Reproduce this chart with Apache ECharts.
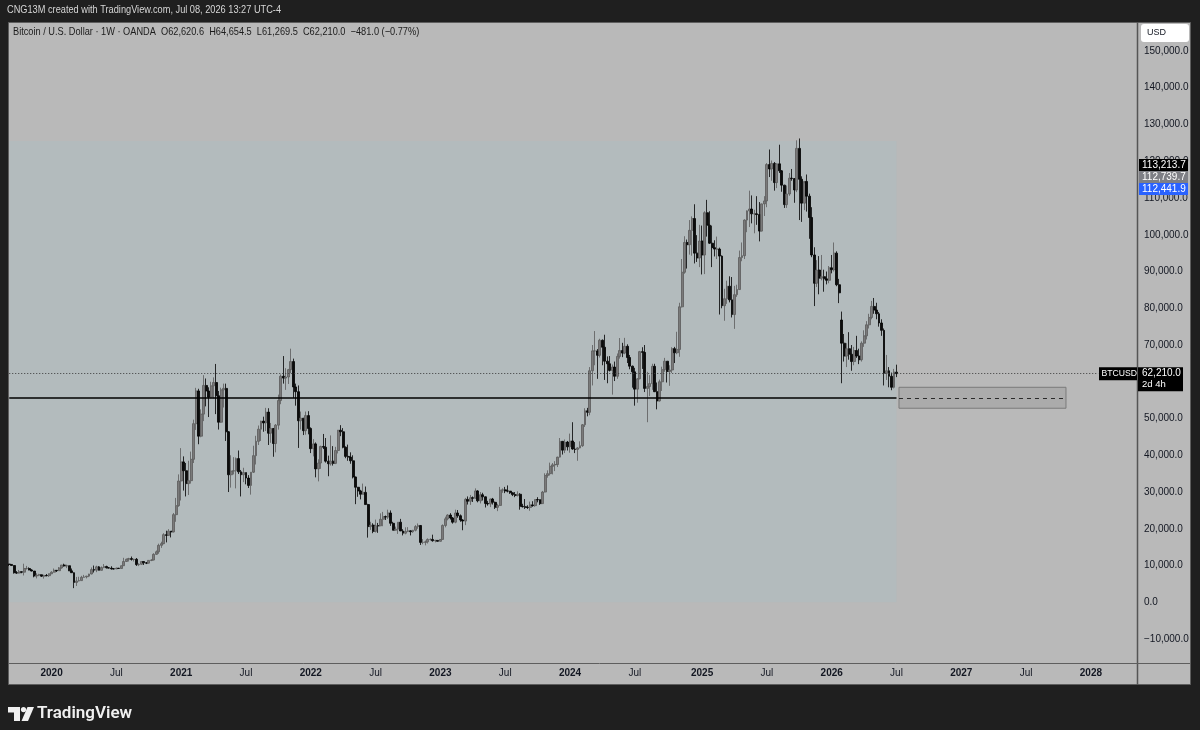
<!DOCTYPE html>
<html><head><meta charset="utf-8">
<script src="https://cdn.jsdelivr.net/npm/echarts@6/dist/echarts.min.js"></script>
<style>html,body{margin:0;padding:0;background:#1f1f1f;}#c{width:1200px;height:730px;}</style>
</head><body><div id="c"></div>
<script>
// ---- time axis: weekly bars (Monday opens) ----
const firstWeek = '2019-09-09';
const weekCount = 453;            // visible weekly slots incl. future space to 2028
// ---- weekly candles [open, high, low, close] in thousands of USD ----
const btc2019 = [
[10.4,10.45,9.9,10.3],[10.3,10.35,9.95,10.0],[10.0,10.05,7.8,8.05],[8.05,8.5,7.75,7.95],[7.95,8.8,7.8,8.3],
[8.3,8.4,7.9,8.2],[8.2,10.5,7.3,9.2],[9.2,9.9,8.9,9.2],[9.2,9.5,8.7,8.8],[8.8,9.0,8.4,8.5],
[8.5,8.5,6.8,7.15],[7.15,7.9,6.5,7.4],[7.4,7.75,7.1,7.5],[7.5,7.5,6.9,7.1],[7.1,7.5,6.45,7.3],
[7.3,7.7,7.05,7.25],[7.25,7.85,6.9,7.75]];
const btc2020 = [
[7.75,8.45,7.7,8.2],[8.2,9.2,8.1,8.7],[8.7,8.75,8.25,8.6],[8.6,9.6,8.55,9.35],[9.35,10.15,9.15,10.15],
[10.15,10.5,9.7,9.9],[9.9,10.25,9.3,9.95],[9.95,9.95,8.5,8.55],[8.55,9.2,8.0,8.05],[8.05,8.15,3.85,5.4],
[5.4,6.9,4.45,5.8],[5.8,6.95,5.7,5.9],[5.9,7.2,5.85,6.8],[6.8,7.45,6.75,6.9],[6.9,7.2,6.5,7.12],
[7.12,7.75,6.85,7.7],[7.7,9.48,7.6,8.9],[8.9,10.0,8.1,8.75],[8.75,9.95,8.2,9.65],[9.65,9.85,8.68,8.7],
[8.7,9.75,8.65,9.45],[9.45,10.4,9.3,9.75],[9.75,9.95,9.2,9.4],[9.4,9.6,9.2,9.3],[9.3,9.8,8.9,9.1],
[9.1,9.3,8.95,9.08],[9.08,9.45,9.05,9.28],[9.28,9.35,9.1,9.2],[9.2,10.0,9.15,9.95],[9.95,12.1,9.9,11.1],
[11.1,11.9,11.0,11.7],[11.7,12.1,11.1,11.9],[11.9,12.45,11.35,11.65],[11.65,11.8,11.1,11.7],[11.7,12.05,9.9,10.25],
[10.25,10.6,9.85,10.35],[10.35,11.1,10.2,11.1],[11.1,11.1,10.15,10.75],[10.75,10.95,10.4,10.65],[10.65,11.5,10.55,11.4],
[11.4,11.7,11.2,11.5],[11.5,13.35,11.4,13.05],[13.05,14.1,12.9,13.75],[13.75,15.95,13.2,15.5],[15.5,16.48,14.8,15.95],
[15.95,18.8,15.8,18.4],[18.4,19.48,16.3,18.2],[18.2,19.9,18.1,19.35],[19.35,19.4,17.65,19.15],[19.15,24.3,19.0,23.85],
[23.85,28.4,21.9,26.3],[26.3,34.8,26.0,33.0]];
const btc2021 = [
[33.0,41.95,27.7,38.2],[38.2,39.7,30.4,35.8],[35.8,37.9,28.8,32.3],[32.3,38.5,29.2,33.1],[33.1,41.0,32.3,38.9],
[38.9,49.7,37.9,48.6],[48.6,58.35,46.9,57.5],[57.5,58.1,43.0,45.2],[45.2,52.5,44.9,51.2],[51.2,61.8,49.3,59.0],
[59.0,60.9,53.3,57.5],[57.5,58.5,50.4,55.8],[55.8,60.0,55.5,58.9],[58.9,61.2,55.5,59.8],[59.8,64.85,51.2,56.2],
[56.2,57.5,47.0,49.0],[49.0,58.4,48.8,57.8],[57.8,59.5,53.0,58.2],[58.2,59.5,43.9,46.4],[46.4,46.6,30.0,34.7],
[34.7,40.0,31.2,35.7],[35.7,39.5,34.8,35.8],[35.8,39.4,31.0,39.1],[39.1,41.3,34.9,35.5],[35.5,36.0,28.8,34.7],
[34.7,36.6,32.7,35.3],[35.3,35.3,32.1,33.8],[33.8,34.6,31.1,31.8],[31.8,35.4,29.3,35.4],[35.4,42.6,35.2,39.9],
[39.9,45.3,37.5,43.8],[43.8,48.1,42.8,47.1],[47.1,49.4,43.9,49.3],[49.3,50.5,46.4,48.8],[48.8,52.9,46.6,51.75],
[51.75,52.8,42.8,46.0],[46.0,48.8,43.4,47.3],[47.3,47.4,39.6,43.2],[43.2,48.5,40.8,48.2],[48.2,56.5,47.0,54.9],
[54.9,62.0,53.9,61.5],[61.5,67.0,59.5,61.0],[61.0,63.7,57.8,61.3],[61.3,63.5,59.4,63.3],[63.3,69.0,62.3,65.5],
[65.5,66.3,55.6,58.6],[58.6,59.5,53.5,57.3],[57.3,59.0,42.0,49.4],[49.4,51.9,47.0,50.1],[50.1,50.1,45.5,46.7],
[46.7,51.9,45.6,50.8],[50.8,52.0,45.7,47.3]];
const btc2022 = [
[47.3,47.6,40.6,41.8],[41.8,44.4,39.7,43.1],[43.1,43.5,34.0,36.3],[36.3,38.9,32.9,37.9],[37.9,42.6,36.3,42.4],
[42.4,45.8,41.7,42.2],[42.2,44.7,38.0,38.4],[38.4,39.9,34.3,37.7],[37.7,45.4,37.2,38.4],[38.4,42.5,37.2,37.8],
[37.8,42.3,37.6,41.3],[41.3,46.9,40.5,46.8],[46.8,48.2,45.2,46.4],[46.4,47.4,41.9,42.2],[42.2,42.4,39.2,39.7],
[39.7,42.9,38.5,39.5],[39.5,40.8,37.7,38.5],[38.5,40.0,33.7,34.1],[34.1,34.2,26.7,31.3],[31.3,31.4,28.7,30.3],
[30.3,30.6,28.0,29.4],[29.4,32.3,29.3,29.9],[29.9,31.5,26.6,26.6],[26.6,26.8,17.6,20.6],[20.6,21.9,19.7,21.0],
[21.0,21.5,18.8,19.3],[19.3,22.5,19.0,20.85],[20.85,21.6,18.9,20.8],[20.8,24.2,20.8,22.6],[22.6,24.6,20.7,23.3],
[23.3,23.6,22.4,23.2],[23.2,25.2,22.7,24.3],[24.3,25.0,20.8,21.5],[21.5,21.9,19.6,19.6],[19.6,20.6,19.6,19.9],
[19.9,21.8,18.6,21.8],[21.8,22.7,19.4,19.4],[19.4,19.9,18.2,18.8],[18.8,20.4,18.5,19.3],[19.3,20.45,19.1,19.45],
[19.45,19.6,18.2,19.2],[19.2,19.7,18.9,19.6],[19.6,21.0,19.3,20.6],[20.6,21.45,20.0,20.9],[20.9,21.0,15.6,16.3],
[16.3,17.2,15.8,16.3],[16.3,16.8,15.5,16.45],[16.45,17.4,16.0,17.1],[17.1,17.4,16.8,17.1],[17.1,18.4,16.5,16.75],
[16.75,17.0,16.3,16.84],[16.84,16.9,16.5,16.6]];
const btc2023 = [
[16.6,17.2,16.5,17.1],[17.1,21.2,17.1,20.9],[20.9,23.3,20.4,22.7],[22.7,23.95,22.3,23.75],[23.75,24.25,22.5,22.95],
[22.95,23.2,21.4,21.8],[21.8,25.2,21.5,24.3],[24.3,25.1,23.0,23.55],[23.55,23.9,21.9,22.4],[22.4,22.6,19.6,22.1],
[22.1,28.4,21.0,28.0],[28.0,28.8,26.6,27.5],[27.5,29.2,26.5,28.45],[28.45,28.8,27.3,28.3],[28.3,31.0,28.2,30.3],
[30.3,30.5,27.2,27.6],[27.6,30.0,26.9,29.25],[29.25,29.8,27.7,28.7],[28.7,28.8,25.8,26.9],[26.9,27.6,26.3,26.75],
[26.75,28.2,25.9,28.1],[28.1,28.4,26.6,27.2],[27.2,27.4,25.4,25.85],[25.85,26.8,24.8,26.35],[26.35,31.4,26.2,30.5],
[30.5,31.0,29.8,30.6],[30.6,31.4,29.7,30.3],[30.3,31.8,29.9,30.25],[30.25,30.3,29.5,29.8],[29.8,29.9,28.9,29.3],
[29.3,30.0,28.6,29.05],[29.05,30.2,28.8,29.4],[29.4,29.7,25.2,26.1],[26.1,26.8,25.8,26.0],[26.0,28.1,25.4,25.85],
[25.85,26.4,25.4,25.8],[25.8,27.4,24.9,26.5],[26.5,27.5,26.0,26.3],[26.3,28.0,26.0,27.95],[27.95,28.6,27.2,27.9],
[27.9,28.0,26.5,26.85],[26.85,30.3,26.8,30.0],[30.0,35.1,29.9,34.5],[34.5,35.9,33.9,35.0],[35.0,38.0,34.5,37.0],
[37.0,37.9,34.8,37.4],[37.4,38.4,35.7,37.5],[37.5,39.6,36.8,39.5],[39.5,44.7,39.4,43.8],[43.8,43.8,40.2,41.4],
[41.4,44.3,40.6,43.6],[43.6,43.9,41.3,42.3]];
const btc2024 = [
[42.3,45.9,40.7,43.9],[43.9,49.0,41.5,41.7],[41.7,43.6,40.6,41.6],[41.6,42.2,38.5,42.0],[42.0,43.8,41.9,42.6],
[42.6,48.5,42.3,48.3],[48.3,52.8,47.7,52.1],[52.1,52.9,50.6,51.7],[51.7,64.0,50.9,63.0],[63.0,70.0,59.0,68.4],
[68.4,73.8,64.5,68.4],[68.4,68.9,60.8,67.2],[67.2,71.7,66.6,71.3],[71.3,71.5,64.5,69.4],[69.4,72.8,60.5,65.6],
[65.6,66.9,59.6,64.9],[64.9,67.0,62.8,63.1],[63.1,64.7,56.5,64.0],[64.0,65.5,60.2,61.5],[61.5,67.7,60.8,66.9],
[66.9,71.9,66.3,68.5],[68.5,70.6,66.7,67.8],[67.8,71.95,67.5,69.65],[69.65,70.2,65.1,66.6],[66.6,67.3,63.4,64.25],
[64.25,64.4,58.4,62.7],[62.7,63.8,53.5,58.0],[58.0,61.0,54.3,60.8],[60.8,68.4,60.7,68.2],[68.2,69.4,63.5,68.0],
[68.0,70.0,57.2,58.2],[58.2,62.7,49.0,58.7],[58.7,61.8,56.1,59.5],[59.5,64.9,57.8,64.2],[64.2,64.9,57.2,57.3],
[57.3,59.8,52.5,54.8],[54.8,60.6,54.6,60.0],[60.0,64.1,57.5,63.3],[63.3,66.5,62.7,65.6],[65.6,65.6,59.8,62.8],
[62.8,64.5,58.9,63.2],[63.2,69.4,62.4,69.0],[69.0,69.5,65.1,67.9],[67.9,73.6,67.5,68.8],[68.8,81.5,66.8,80.4],
[80.4,93.4,80.2,89.8],[89.8,99.6,89.4,97.9],[97.9,98.7,90.8,97.3],[97.3,104.0,94.6,101.2],[101.2,105.0,94.3,104.4],
[104.4,108.3,92.2,95.0],[95.0,99.9,92.6,93.7],[93.7,102.7,91.2,98.3]];
const btc2025 = [
[98.3,102.5,89.2,94.5],[94.5,106.4,89.3,106.0],[106.0,109.5,99.5,102.6],[102.6,106.4,97.5,97.7],[97.7,102.5,91.2,96.5],
[96.5,98.5,94.1,96.1],[96.1,99.5,93.4,96.1],[96.1,96.5,78.3,94.2],[94.2,94.4,80.0,80.7],[80.7,85.3,76.6,82.6],
[82.6,87.5,81.2,86.0],[86.0,88.7,81.6,82.3],[82.3,88.5,77.5,78.3],[78.3,86.1,74.4,83.7],[83.7,86.4,83.1,85.1],
[85.1,95.7,85.1,93.8],[93.8,97.9,92.8,94.3],[94.3,104.2,93.4,104.0],[104.0,106.6,100.7,106.5],[106.5,112.0,102.1,107.0],
[107.0,110.7,103.1,105.7],[105.7,106.8,100.4,105.7],[105.7,110.5,102.7,105.5],[105.5,108.9,98.2,101.0],[101.0,108.5,100.9,108.4],
[108.4,110.5,105.1,109.2],[109.2,119.5,107.5,119.1],[119.1,123.2,115.7,117.9],[117.9,120.2,114.7,119.4],[119.4,119.8,112.0,114.2],
[114.2,119.3,112.7,119.3],[119.3,124.5,116.8,117.4],[117.4,117.6,111.7,113.5],[113.5,113.6,107.3,108.2],[108.2,113.4,107.3,111.1],
[111.1,116.8,110.6,115.4],[115.4,117.9,114.7,115.3],[115.3,115.4,108.7,112.2],[112.2,125.7,111.6,123.5],[123.5,126.2,104.0,115.1],
[115.1,115.9,103.5,108.6],[108.6,114.0,106.7,114.5],[114.5,116.4,106.3,110.5],[110.5,111.2,98.9,104.7],[104.7,107.5,93.9,94.5],
[94.5,96.6,80.6,86.8],[86.8,93.1,85.8,90.4],[90.4,94.2,83.8,88.2],[88.2,94.5,87.6,88.6],[88.6,90.5,84.5,88.0],
[88.0,90.0,86.5,87.6],[87.6,91.5,86.8,91.0]];
const btc2026 = [
[91.0,94.5,89.5,90.5],[90.5,97.9,90.0,95.0],[95.0,95.5,86.0,86.4],[86.4,88.0,81.4,84.2],[76.8,79.1,59.6,70.5],
[70.5,73.0,65.5,67.0],[67.0,70.5,64.0,69.0],[69.0,73.5,66.0,67.5],[67.5,70.0,63.0,65.5],[65.5,69.5,64.5,68.5],
[68.5,72.5,66.5,67.0],[67.0,69.0,64.8,66.0],[66.0,71.0,65.5,70.5],[70.5,74.0,69.5,72.5],[72.5,76.5,71.5,75.5],
[75.5,78.5,74.5,77.5],[77.5,82.0,77.0,80.5],[80.5,82.8,78.5,79.5],[79.5,81.5,77.0,78.5],[78.5,79.0,75.0,76.0],
[76.0,77.0,72.5,74.0],[74.0,74.5,59.0,62.3],[62.3,67.3,60.5,63.0],[63.0,64.0,58.5,61.5],[61.5,62.5,57.7,58.5],
[58.5,63.5,58.2,62.69],[62.6206,64.6545,61.2695,62.21]];
// ---- axis ticks, levels, labels ----
const priceTicks = [-10000,0,10000,20000,30000,40000,50000,60000,70000,80000,90000,100000,110000,120000,130000,140000,150000];
const yMin = -16516, yMax = 157889;
const zoneLow = 0, zoneHigh = 125500;          // shaded study rectangle
const supportLevel = 55600;                     // solid horizontal line
const boxLow = 52800, boxHigh = 58500;          // projection box
const lastClose = 62210.0;
const priceTags = [
  {text:'113,213.7', bg:'#000000'},
  {text:'112,739.7', bg:'#7e7f85'},
  {text:'112,441.9', bg:'#2962ff', value:112441.9}
];
const headerText = 'Bitcoin / U.S. Dollar · 1W · OANDA  O62,620.6  H64,654.5  L61,269.5  C62,210.0  −481.0 (−0.77%)';
const topText = 'CNG13M created with TradingView.com, Jul 08, 2026 13:27 UTC-4';

// ---- build ----
const weeks = [];
{
  const t0 = Date.parse(firstWeek + 'T00:00:00Z');
  for (let i = 0; i < weekCount; i++) {
    const d = new Date(t0 + i * 7 * 86400000);
    weeks.push(d.toISOString().slice(0, 10));
  }
}
const ohlc = [].concat(btc2019, btc2020, btc2021, btc2022, btc2023, btc2024, btc2025, btc2026);
const candleData = ohlc.map(r => [r[0]*1000, r[3]*1000, r[2]*1000, r[1]*1000]);
const lastIdx = ohlc.length - 1;

function isLabelWeek(v) {
  const m = +v.slice(5, 7), d = +v.slice(8, 10);
  return (m === 1 || m === 7) && d <= 7;
}
function fmtPrice(v) {
  const s = Math.abs(v).toLocaleString('en-US', {minimumFractionDigits: 1, maximumFractionDigits: 1});
  return (v < 0 ? '−' : '') + s;
}
const FONT = 'Liberation Sans, Arial, sans-serif';
const chart = echarts.init(document.getElementById('c'), null, {renderer: 'canvas'});
const gridL = 8, gridR = 1137, gridT = 22, gridB = 663;

chart.setOption({
  backgroundColor: '#1f1f1f',
  animation: false,
  textStyle: {fontFamily: FONT},
  grid: {left: gridL, right: 1200 - gridR, top: gridT, bottom: 730 - gridB, containLabel: false},
  xAxis: {
    type: 'category', data: weeks, boundaryGap: true,
    axisLine: {show: false}, axisTick: {show: false}, splitLine: {show: false},
    axisLabel: {
      interval: (i, v) => isLabelWeek(v), margin: 5, fontSize: 10, color: '#131722', fontFamily: FONT,
      formatter: v => (+v.slice(5, 7) === 1 ? '{y|' + v.slice(0, 4) + '}' : '{m|Jul}'),
      rich: {y: {fontWeight: 'bold', fontSize: 10, color: '#131722', fontFamily: FONT},
             m: {fontSize: 10, color: '#131722', fontFamily: FONT}}
    }
  },
  yAxis: {
    type: 'value', position: 'right', min: yMin, max: yMax,
    axisLine: {show: false}, axisTick: {show: false}, splitLine: {show: false},
    axisLabel: {customValues: priceTicks, formatter: fmtPrice, color: '#131722', fontSize: 10, margin: 7, fontFamily: FONT}
  },
  series: [
    {
      type: 'line', z: 1, data: [], silent: true,
      markArea: {silent: true, itemStyle: {color: '#b3bbbd'},
        data: [[{coord: [weeks[0], zoneLow]}, {coord: [weeks[lastIdx], zoneHigh]}]]}
    },
    {
      type: 'candlestick', z: 3, data: candleData, barWidth: 2.4,
      itemStyle: {color: '#7a7a7a', color0: '#0c0c0c', borderColor: '#5a5a5a', borderColor0: '#000000', borderWidth: 0.8}
    },
    {
      type: 'line', z: 4, data: [], silent: true,
      markArea: {silent: true, itemStyle: {color: 'rgba(110,110,110,0.18)', borderColor: '#7a7a7a', borderWidth: 1},
        data: [[{coord: [weeks[lastIdx + 1], boxHigh]}, {coord: [weeks[424], boxLow]}]]},
      markLine: {silent: true, symbol: ['none', 'none'], label: {show: false},
        data: [
          [{coord: [weeks[0], supportLevel], lineStyle: {color: '#000', width: 1.5, type: 'solid'}}, {coord: [weeks[lastIdx], supportLevel]}],
          [{coord: [weeks[lastIdx + 1], supportLevel], lineStyle: {color: '#2a2a2a', width: 1, type: [4, 4]}}, {coord: [weeks[423], supportLevel]}],
          [{coord: [weeks[0], lastClose], lineStyle: {color: '#3a3a3a', width: 1, type: [1, 2]}}, {coord: [weeks[437], lastClose]}]
        ]}
    }
  ]
});

// ---- overlay labels positioned on the price scale ----
const yLast = chart.convertToPixel({yAxisIndex: 0}, lastClose);
const yBlue = chart.convertToPixel({yAxisIndex: 0}, priceTags[2].value);
const g = [
  {type: 'rect', z: 0, shape: {x: 8.5, y: 22.5, width: 1182, height: 662}, style: {fill: '#b9b9b9', stroke: '#5e5e5e', lineWidth: 1}},
  {type: 'line', z: 20, shape: {x1: 1137.5, y1: 22, x2: 1137.5, y2: 685}, style: {stroke: '#555', lineWidth: 1.5}},
  {type: 'line', z: 20, shape: {x1: 8, y1: 663.5, x2: 1191, y2: 663.5}, style: {stroke: '#5e5e5e', lineWidth: 1}},
  {type: 'text', z: 20, x: 7, y: 10, scaleX: 0.87, style: {text: topText, fill: '#d6d6d6', font: '10.6px ' + FONT, textVerticalAlign: 'middle'}},
  {type: 'text', z: 20, x: 13, y: 32, scaleX: 0.87, style: {text: headerText, fill: '#1c1c1c', font: '10.6px ' + FONT, textVerticalAlign: 'middle'}},
  {type: 'rect', z: 20, shape: {x: 1141, y: 24, width: 48, height: 18, r: 3}, style: {fill: '#ffffff'}},
  {type: 'text', z: 21, x: 1147, y: 33, style: {text: 'USD', fill: '#131722', font: '9px ' + FONT, textVerticalAlign: 'middle'}},
  // last price tags
  {type: 'rect', z: 20, shape: {x: 1099, y: yLast - 6.5, width: 38, height: 13}, style: {fill: '#000'}},
  {type: 'text', z: 21, x: 1101.5, y: yLast, scaleX: 0.9, style: {text: 'BTCUSD', fill: '#fff', font: '9.6px ' + FONT, textVerticalAlign: 'middle'}},
  {type: 'rect', z: 20, shape: {x: 1138, y: yLast - 6.5, width: 45, height: 24}, style: {fill: '#000'}},
  {type: 'text', z: 21, x: 1142, y: yLast, style: {text: '62,210.0', fill: '#fff', font: '10px ' + FONT, textVerticalAlign: 'middle'}},
  {type: 'text', z: 21, x: 1142, y: yLast + 11, style: {text: '2d 4h', fill: '#fff', font: '9.5px ' + FONT, textVerticalAlign: 'middle'}},
  // TradingView logo
  {type: 'polygon', z: 20, shape: {points: [[8,707],[20,707],[20,721],[14,721],[14,712.5],[8,712.5]]}, style: {fill: '#f0f0f0'}},
  {type: 'circle', z: 20, shape: {cx: 23.5, cy: 709.6, r: 2.6}, style: {fill: '#f0f0f0'}},
  {type: 'polygon', z: 20, shape: {points: [[27.5,707],[34,707],[28,721],[21.5,721]]}, style: {fill: '#f0f0f0'}},
  {type: 'text', z: 20, x: 37, y: 714, style: {text: 'TradingView', fill: '#f0f0f0', font: '600 17px Roboto, ' + FONT, textVerticalAlign: 'middle'}}
];
priceTags.forEach((t, k) => {
  const yc = yBlue - (2 - k) * 12;
  g.push({type: 'rect', z: 20, shape: {x: 1139, y: yc - 6, width: 49, height: 12}, style: {fill: t.bg}});
  g.push({type: 'text', z: 21, x: 1142, y: yc, style: {text: t.text, fill: '#fff', font: '10px ' + FONT, textVerticalAlign: 'middle'}});
});
chart.setOption({graphic: g});
</script></body></html>
